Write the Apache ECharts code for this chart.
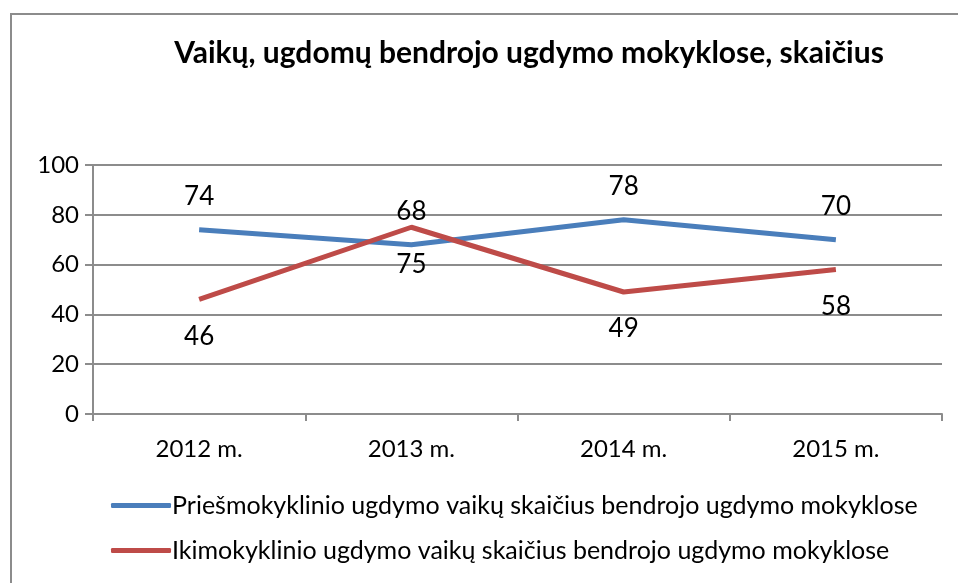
<!DOCTYPE html>
<html>
<head>
    <meta charset="utf-8">
    <style>
        body{ margin: 0; background: #fff; }
        #frame{
            position: absolute; left: 10px; top: 13px;
            width: 960px; height: 600px;
            border: 2px solid #8c8c8c;
            box-sizing: border-box;
        }
        #chart-container{ position: absolute; left: 0; top: 0; width: 958px; height: 583px; }
    </style>
</head>
<body>
    <div id="frame"></div>
    <div id="chart-container"></div>

    <script type="text/javascript" src="https://cdn.jsdelivr.net/npm/echarts@6/dist/echarts.min.js"></script>
    <script>
        var titleText = 'Vaikų, ugdomų bendrojo ugdymo mokyklose, skaičius';
        var categories = ['2012 m.', '2013 m.', '2014 m.', '2015 m.'];
        var priesmokyklinis = [74, 68, 78, 70];
        var ikimokyklinis = [46, 75, 49, 58];
        var seriesNames = [
            'Priešmokyklinio ugdymo vaikų skaičius bendrojo ugdymo mokyklose',
            'Ikimokyklinio ugdymo vaikų skaičius bendrojo ugdymo mokyklose'
        ];

        var font = 'Lato, "Open Sans", sans-serif';
        var gray = '#8c8c8c';

        var myChart = echarts.init(document.getElementById('chart-container'));
        var option = {
            animation: false,
            textStyle: { fontFamily: font },
            title: {
                text: titleText,
                left: 524, top: 33,
                textAlign: 'center',
                textStyle: { fontSize: 30, fontWeight: 'bold', color: '#000', fontFamily: font }
            },
            legend: {
                orient: 'vertical',
                left: 106, top: 488,
                itemWidth: 60, itemHeight: 5,
                itemGap: 20,
                icon: 'roundRect',
                textStyle: { fontSize: 25, color: '#000', padding: [0, 0, 0, -4] },
                data: seriesNames
            },
            grid: { left: 93, right: 16, top: 165, bottom: 169 },
            xAxis: {
                type: 'category',
                data: categories,
                boundaryGap: true,
                axisLine: { lineStyle: { color: gray, width: 2 } },
                axisTick: { show: true, length: 7, lineStyle: { color: gray, width: 2 } },
                axisLabel: { fontSize: 24, color: '#000', margin: 23 }
            },
            yAxis: {
                type: 'value',
                min: 0, max: 100, interval: 20,
                axisLine: { show: true, lineStyle: { color: gray, width: 2 } },
                axisTick: { show: true, length: 8, lineStyle: { color: gray, width: 2 } },
                axisLabel: { fontSize: 24, color: '#000', margin: 14 },
                splitLine: { lineStyle: { color: gray, width: 2 } }
            },
            series: [
                {
                    name: seriesNames[0],
                    type: 'line',
                    data: priesmokyklinis,
                    symbol: 'circle',
                    symbolSize: 0,
                    color: '#4a7ebb',
                    lineStyle: { width: 5, color: '#4a7ebb' },
                    label: { show: true, position: 'top', distance: 20, fontSize: 26, color: '#000' }
                },
                {
                    name: seriesNames[1],
                    type: 'line',
                    data: ikimokyklinis,
                    symbol: 'circle',
                    symbolSize: 0,
                    color: '#be4b48',
                    lineStyle: { width: 5, color: '#be4b48' },
                    label: { show: true, position: 'bottom', distance: 24, fontSize: 26, color: '#000' }
                }
            ]
        };
        myChart.setOption(option);
    </script>
</body>
</html>
